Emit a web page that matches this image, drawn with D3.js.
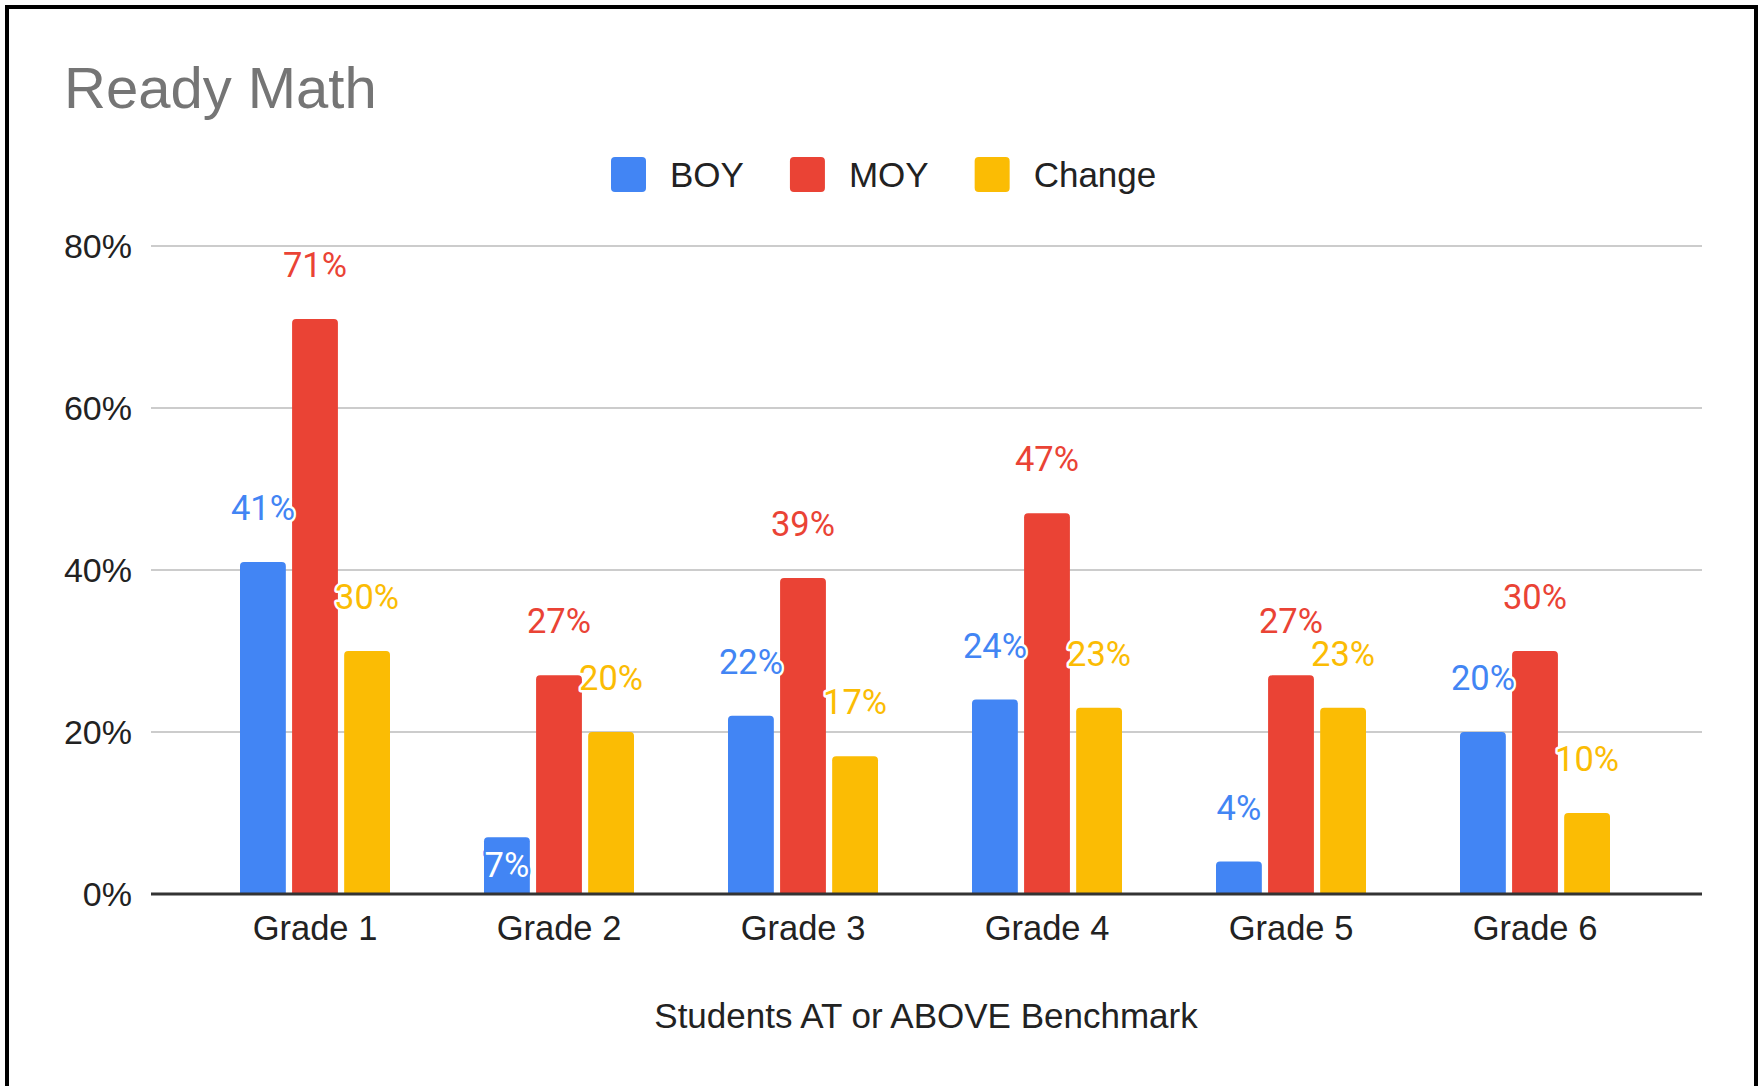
<!DOCTYPE html>
<html>
<head>
<meta charset="utf-8">
<script src="https://cdn.jsdelivr.net/npm/d3@7"></script>
<style>
  html, body { margin: 0; padding: 0; background: #fff; }
  svg { display: block; }
</style>
</head>
<body>
<svg id="chart"></svg>
<script>
const width = 1763;
const height = 1086;

const grades = ["Grade 1", "Grade 2", "Grade 3", "Grade 4", "Grade 5", "Grade 6"];
const seriesNames = ["BOY", "MOY", "Change"];
const boy = [41, 7, 22, 24, 4, 20];
const moy = [71, 27, 39, 47, 27, 30];
const change = [30, 20, 17, 23, 23, 10];
const yTicks = [0, 20, 40, 60, 80];
// where Sheets put each BOY label ("in" = inside the bar)
const boyLabelPos = ["out", "in", "out", "out", "out", "out"];

const colors = ["#4285f4", "#ea4335", "#fbbc04"];
const series = [boy, moy, change];

main();

function main() {
  const svg = d3.select("#chart").attr("width", width).attr("height", height);

  // frame
  svg.append("rect")
    .attr("x", 7).attr("y", 7)
    .attr("width", 1749).attr("height", height + 20)
    .attr("fill", "none").attr("stroke", "#000").attr("stroke-width", 4);

  svg.append("text")
    .attr("x", 64).attr("y", 108)
    .attr("font-family", "Liberation Sans, Arial, sans-serif")
    .attr("font-size", 58)
    .attr("fill", "#757575")
    .text("Ready Math");

  const x = d3.scaleBand().domain(grades).range([193, 1657]);
  const y = d3.scaleLinear().domain([0, 80]).range([894, 246]);
  const xs = d3.scaleBand().domain(seriesNames).range([0, 150]).paddingInner(0.12);

  // gridlines + y labels
  const grid = svg.append("g");
  grid.selectAll("line").data(yTicks.filter(d => d > 0)).join("line")
    .attr("x1", 151).attr("x2", 1702)
    .attr("y1", d => y(d)).attr("y2", d => y(d))
    .attr("stroke", "#cccccc").attr("stroke-width", 2);

  grid.selectAll("text").data(yTicks).join("text")
    .attr("x", 132).attr("y", d => y(d))
    .attr("text-anchor", "end").attr("dominant-baseline", "central")
    .attr("font-family", "Liberation Sans, Arial, sans-serif")
    .attr("font-size", 34).attr("fill", "#222")
    .text(d => d + "%");

  // bars
  const groups = svg.append("g").selectAll("g").data(grades).join("g")
    .attr("transform", d => `translate(${x(d) + x.bandwidth() / 2 - 75},0)`);

  groups.each(function(g, gi) {
    const sel = d3.select(this);
    seriesNames.forEach((s, si) => {
      const v = series[si][gi];
      const bx = xs(s), bw = xs.bandwidth();
      const top = y(v), bot = y(0), r = 4;
      sel.append("path")
        .attr("d", `M${bx},${bot} V${top + r} Q${bx},${top} ${bx + r},${top} H${bx + bw - r} Q${bx + bw},${top} ${bx + bw},${top + r} V${bot} Z`)
        .attr("fill", colors[si]);
    });
  });

  // data labels
  groups.each(function(g, gi) {
    const sel = d3.select(this);
    seriesNames.forEach((s, si) => {
      const v = series[si][gi];
      const cx = xs(s) + xs.bandwidth() / 2;
      const inside = si === 0 && boyLabelPos[gi] === "in";
      const cy = inside ? y(v) + 28 : y(v) - 54;
      sel.append("text")
        .attr("x", cx).attr("y", cy)
        .attr("text-anchor", "middle").attr("dominant-baseline", "central")
        .attr("font-family", "Roboto, sans-serif")
        .attr("font-size", 34.5)
        .attr("fill", inside ? "#fff" : colors[si])
        .attr("stroke", inside ? colors[si] : "#fff")
        .attr("stroke-width", 5)
        .attr("stroke-linejoin", "round")
        .attr("paint-order", "stroke")
        .text(v + "%");
    });
  });

  // baseline
  svg.append("line")
    .attr("x1", 151).attr("x2", 1702)
    .attr("y1", y(0)).attr("y2", y(0))
    .attr("stroke", "#333").attr("stroke-width", 3);

  // x labels
  svg.append("g").selectAll("text").data(grades).join("text")
    .attr("x", d => x(d) + x.bandwidth() / 2).attr("y", 928)
    .attr("text-anchor", "middle").attr("dominant-baseline", "central")
    .attr("font-family", "Liberation Sans, Arial, sans-serif")
    .attr("font-size", 34.5).attr("fill", "#222")
    .text(d => d);

  svg.append("text")
    .attr("x", 926).attr("y", 1015)
    .attr("text-anchor", "middle").attr("dominant-baseline", "central")
    .attr("font-family", "Liberation Sans, Arial, sans-serif")
    .attr("font-size", 35).attr("fill", "#222")
    .text("Students AT or ABOVE Benchmark");

  // legend
  const legend = svg.append("g");
  let lx = 611;
  seriesNames.forEach((s, i) => {
    legend.append("rect")
      .attr("x", lx).attr("y", 157).attr("width", 35).attr("height", 35)
      .attr("rx", 4).attr("fill", colors[i]);
    const t = legend.append("text")
      .attr("x", lx + 59).attr("y", 174)
      .attr("dominant-baseline", "central")
      .attr("font-family", "Liberation Sans, Arial, sans-serif")
      .attr("font-size", 35).attr("fill", "#222")
      .text(s);
    lx += 59 + t.node().getComputedTextLength() + 46;
  });
}
</script>
</body>
</html>
